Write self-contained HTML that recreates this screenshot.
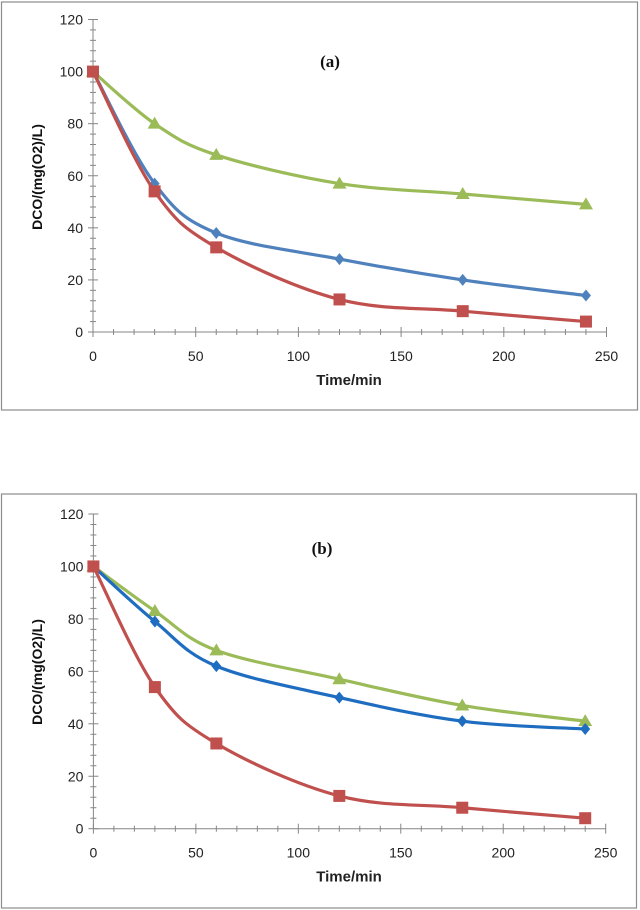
<!DOCTYPE html>
<html><head><meta charset="utf-8"><style>
html,body{margin:0;padding:0;background:#fff}
svg{display:block}
</style></head><body>
<svg id="s" width="640" height="910" xmlns="http://www.w3.org/2000/svg" font-family="Liberation Sans, sans-serif"></svg>
<script>
const times = [0, 30, 60, 120, 180, 240];
const aBlue = [100, 57, 38, 28, 20, 14];
const aRed = [100, 54, 32.5, 12.5, 8, 4];
const aGreen = [100, 80, 68, 57, 53, 49];
const bBlue = [100, 79, 62, 50, 41, 38];
const bRed = [100, 54, 32.5, 12.5, 8, 4];
const bGreen = [100, 83, 68, 57, 47, 41];
const xTicks = [0, 50, 100, 150, 200, 250];
const yTicks = [0, 20, 40, 60, 80, 100, 120];

const NS = 'http://www.w3.org/2000/svg';
const svg = document.getElementById('s');
function mk(tag, attrs, parent) {
  const e = document.createElementNS(NS, tag);
  for (const k in attrs) e.setAttribute(k, attrs[k]);
  (parent || svg).appendChild(e);
  return e;
}
function smooth(pts) {
  let d = 'M' + pts[0][0] + ',' + pts[0][1];
  for (let i = 0; i < pts.length - 1; i++) {
    const p0 = pts[Math.max(0, i - 1)], p1 = pts[i], p2 = pts[i + 1], p3 = pts[Math.min(pts.length - 1, i + 2)];
    const t = 0.17;
    const c1 = [p1[0] + (p2[0] - p0[0]) * t, p1[1] + (p2[1] - p0[1]) * t];
    const c2 = [p2[0] - (p3[0] - p1[0]) * t, p2[1] - (p3[1] - p1[1]) * t];
    d += ' C' + c1 + ' ' + c2 + ' ' + p2;
  }
  return d;
}
function chart(cfg) {
  const g = mk('g', {});
  
  
  const fr = mk('rect', {x: cfg.fx, y: cfg.fy, width: cfg.fw, height: cfg.fh, fill: '#fff', stroke: '#8c8c8c', 'stroke-width': 1.2}, g);
  
  
  const X = v => cfg.x0 + (v / 250) * (cfg.x1 - cfg.x0);
  const Y = v => cfg.y0 - (v / 120) * (cfg.y0 - cfg.y1);
  const ax = mk('g', {stroke: '#868686', 'stroke-width': 1}, g);
  
  
  mk('line', {x1: X(0), y1: Y(0), x2: X(250), y2: Y(0)}, ax);
  mk('line', {x1: X(0), y1: Y(0), x2: X(0), y2: Y(120)}, ax);
  for (let v = 0; v <= 120; v += 4) { const w = v % 20 === 0 ? 5 : 3; mk('line', {x1: X(0) - w, x2: X(0) + w, y1: Y(v), y2: Y(v)}, ax); }
  for (let v = 0; v <= 250; v += 10) { const w = v % 50 === 0 ? 5 : 3; mk('line', {x1: X(v), x2: X(v), y1: Y(0) - w, y2: Y(0) + w}, ax); }
  yTicks.forEach(v => {
    const t = mk('text', {x: X(0) - 10, y: Y(v) + 5, 'text-anchor': 'end', 'font-size': 14, fill: '#222'}, g);
    t.textContent = v;
    
    
  });
  xTicks.forEach(v => {
    const t = mk('text', {x: X(v), y: Y(0) + 29, 'text-anchor': 'middle', 'font-size': 14, fill: '#222'}, g);
    t.textContent = v;
    
    
  });
  const xt = mk('text', {x: cfg.xtX, y: Y(0) + 53, 'text-anchor': 'middle', 'font-size': 15, 'font-weight': 'bold', fill: '#222'}, g);
  xt.textContent = 'Time/min';
  
  
  const ty = cfg.ytY;
  const yt = mk('text', {x: 0, y: 0, transform: 'translate(42,' + ty + ') rotate(-90)', 'text-anchor': 'middle', 'font-size': 14, 'font-weight': 'bold', fill: '#111'}, g);
  yt.textContent = 'DCO/(mg(O2)/L)';
  
  
  const lab = mk('text', {x: cfg.labX, y: cfg.labY, 'text-anchor': 'middle', 'font-size': 17, 'font-weight': 'bold', 'font-family': 'Liberation Serif, serif', fill: '#111'}, g);
  lab.textContent = cfg.label;
  
  
  cfg.series.forEach(s => {
    const pts = times.map((t, i) => [X(t), Y(s.vals[i])]);
    const sg = mk('g', {}, g);
    
    
    const p = mk('path', {d: smooth(pts), fill: 'none', stroke: s.color, 'stroke-width': 3.2, 'stroke-linejoin': 'round'}, sg);
    
    
    pts.forEach(([x, y]) => {
      let m;
      if (s.shape === 'sq') m = mk('rect', {x: x - 6, y: y - 6, width: 12, height: 12, fill: s.color}, sg);
      else if (s.shape === 'tri') m = mk('polygon', {points: (x) + ',' + (y - 7) + ' ' + (x + 7) + ',' + (y + 5) + ' ' + (x - 7) + ',' + (y + 5), fill: s.color}, sg);
      else m = mk('polygon', {points: x + ',' + (y - 6) + ' ' + (x + 5) + ',' + y + ' ' + x + ',' + (y + 6) + ' ' + (x - 5) + ',' + y, fill: s.color}, sg);
      
      
    });
  });
}
chart({name: 'chart-a', fx: 1.5, fy: 2, fw: 636, fh: 408, x0: 93, x1: 606.5, y0: 332, y1: 19.5, label: '(a)', labX: 330, labY: 67, xtX: 349, ytY: 177,
  series: [
    {name: 'series-green', vals: aGreen, color: '#9bbb59', shape: 'tri'},
    {name: 'series-blue', vals: aBlue, color: '#4f81bd', shape: 'dia'},
    {name: 'series-red', vals: aRed, color: '#c0504d', shape: 'sq'}
  ]});
chart({name: 'chart-b', fx: 1.5, fy: 494, fw: 635, fh: 414, x0: 93.4, x1: 605.7, y0: 828.7, y1: 514, label: '(b)', labX: 322, labY: 554, xtX: 349, ytY: 672,
  series: [
    {name: 'series-green', vals: bGreen, color: '#9bbb59', shape: 'tri'},
    {name: 'series-blue', vals: bBlue, color: '#1f6dc0', shape: 'dia'},
    {name: 'series-red', vals: bRed, color: '#c0504d', shape: 'sq'}
  ]});
</script>
</body></html>
